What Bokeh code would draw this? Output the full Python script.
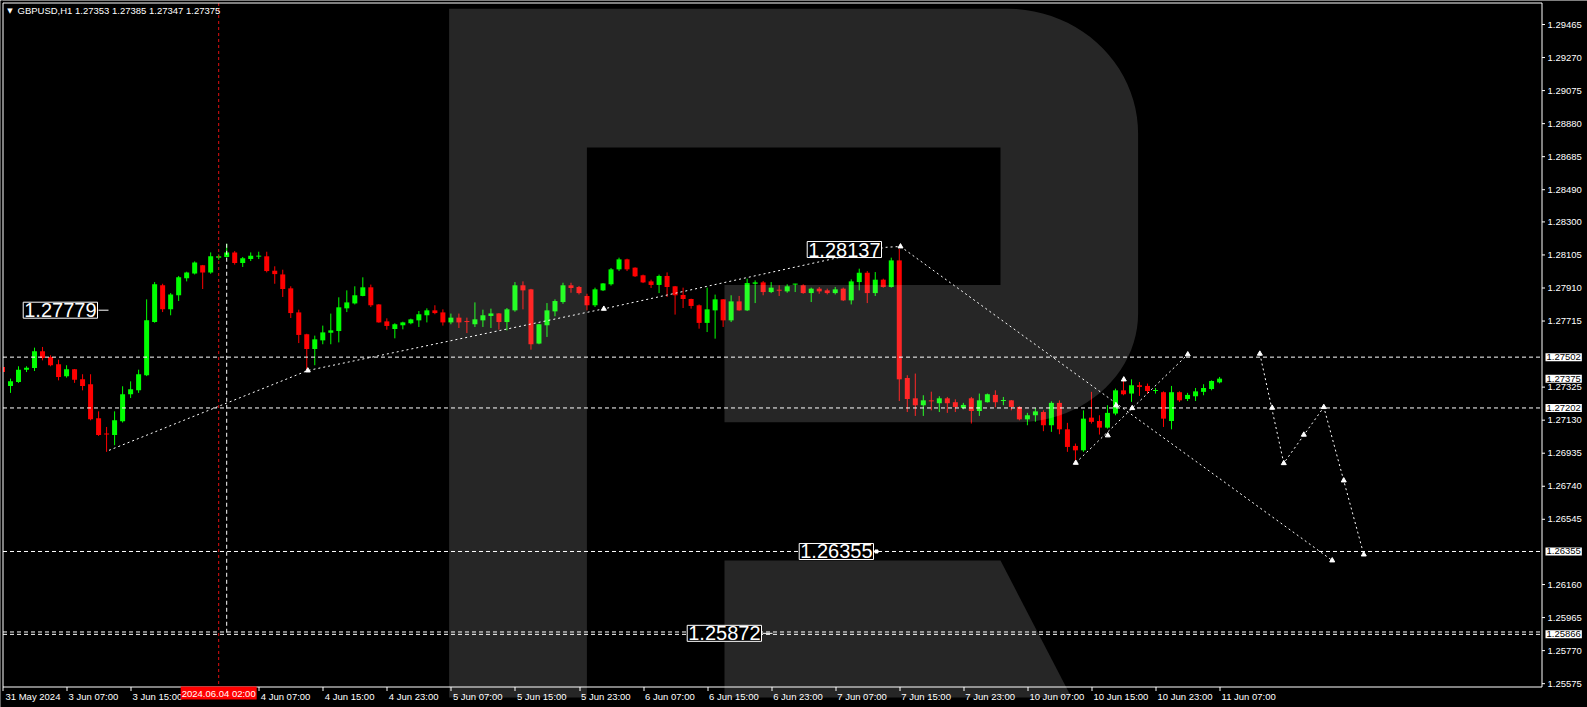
import numpy as np
from bokeh.plotting import figure
from bokeh.models import Range1d, Label, ColumnDataSource
from bokeh.embed import file_html
from bokeh.resources import INLINE

# ---------------- data ----------------
title_text = "GBPUSD,H1  1.27353 1.27385 1.27347 1.27375"

opens = [
    1.27444, 1.27332, 1.27355, 1.27428, 1.27438, 1.27536, 1.27503, 1.27460, 1.27389, 1.27430,
    1.27371, 1.27342, 1.27141, 1.27049, 1.27043, 1.27123, 1.27283, 1.27306, 1.27395, 1.27709,
    1.27926, 1.27784, 1.27867, 1.27967, 1.27996, 1.28044, 1.28002, 1.28089, 1.28093, 1.28120,
    1.28057, 1.28081, 1.28095, 1.28097, 1.28012, 1.27990, 1.27908, 1.27766, 1.27637, 1.27550,
    1.27601, 1.27646, 1.27656, 1.27790, 1.27819, 1.27863, 1.27914, 1.27813, 1.27713, 1.27668,
    1.27690, 1.27702, 1.27719, 1.27749, 1.27778, 1.27766, 1.27707, 1.27735, 1.27713, 1.27696,
    1.27719, 1.27745, 1.27760, 1.27709, 1.27778, 1.27926, 1.27902, 1.27582, 1.27690, 1.27772,
    1.27827, 1.27926, 1.27916, 1.27863, 1.27808, 1.27896, 1.27932, 1.28020, 1.28079, 1.28030,
    1.27985, 1.27949, 1.27928, 1.27981, 1.27920, 1.27869, 1.27845, 1.27808, 1.27704, 1.27778,
    1.27843, 1.27719, 1.27831, 1.27778, 1.27935, 1.27943, 1.27886, 1.27898, 1.27890, 1.27930,
    1.27926, 1.27880, 1.27906, 1.27896, 1.27880, 1.27906, 1.27837, 1.27945, 1.28000, 1.27880,
    1.27959, 1.27916, 1.28073, 1.27379, 1.27259, 1.27218, 1.27245, 1.27230, 1.27259, 1.27236,
    1.27202, 1.27259, 1.27184, 1.27236, 1.27279, 1.27243, 1.27247, 1.27208, 1.27135, 1.27159,
    1.27178, 1.27100, 1.27232, 1.27076, 1.26978, 1.26952, 1.27145, 1.27125, 1.27086, 1.27169,
    1.27306, 1.27287, 1.27336, 1.27332, 1.27302, 1.27295, 1.27125, 1.27295, 1.27255, 1.27271,
    1.27297, 1.27314, 1.27353]

highs = [
    1.27454, 1.27375, 1.27448, 1.27448, 1.27558, 1.27562, 1.27513, 1.27487, 1.27454, 1.27432,
    1.27401, 1.27401, 1.27182, 1.27090, 1.27182, 1.27330, 1.27359, 1.27428, 1.27843, 1.27945,
    1.27935, 1.27880, 1.27981, 1.28006, 1.28067, 1.28046, 1.28120, 1.28108, 1.28171, 1.28128,
    1.28093, 1.28120, 1.28124, 1.28124, 1.28038, 1.28018, 1.27920, 1.27782, 1.27640, 1.27629,
    1.27688, 1.27759, 1.27855, 1.27896, 1.27920, 1.27973, 1.27930, 1.27815, 1.27731, 1.27702,
    1.27711, 1.27729, 1.27774, 1.27790, 1.27808, 1.27784, 1.27759, 1.27759, 1.27735, 1.27825,
    1.27782, 1.27788, 1.27762, 1.27792, 1.27945, 1.27949, 1.27905, 1.27698, 1.27821, 1.27843,
    1.27941, 1.27941, 1.27922, 1.27876, 1.27912, 1.27939, 1.28028, 1.28089, 1.28083, 1.28032,
    1.27989, 1.27959, 1.27989, 1.28002, 1.27922, 1.27912, 1.27847, 1.27813, 1.27912, 1.27871,
    1.27845, 1.27867, 1.27863, 1.27965, 1.27955, 1.27951, 1.27945, 1.27926, 1.27932, 1.27935,
    1.27932, 1.27912, 1.27916, 1.27906, 1.27916, 1.27912, 1.27961, 1.28024, 1.28010, 1.28004,
    1.27965, 1.28089, 1.28140, 1.27395, 1.27405, 1.27277, 1.27298, 1.27271, 1.27267, 1.27253,
    1.27232, 1.27267, 1.27287, 1.27287, 1.27306, 1.27267, 1.27249, 1.27212, 1.27173, 1.27202,
    1.27188, 1.27241, 1.27247, 1.27114, 1.26992, 1.27188, 1.27297, 1.27159, 1.27218, 1.27316,
    1.27365, 1.27371, 1.27355, 1.27346, 1.27320, 1.27300, 1.27332, 1.27300, 1.27291, 1.27320,
    1.27342, 1.27365, 1.27385]

lows = [
    1.27409, 1.27291, 1.27350, 1.27414, 1.27420, 1.27483, 1.27448, 1.27365, 1.27381, 1.27350,
    1.27306, 1.27129, 1.27037, 1.26943, 1.26982, 1.27116, 1.27261, 1.27291, 1.27390, 1.27705,
    1.27768, 1.27749, 1.27833, 1.27949, 1.27990, 1.27904, 1.27994, 1.28077, 1.28090, 1.28048,
    1.28034, 1.28069, 1.28081, 1.28002, 1.27935, 1.27857, 1.27733, 1.27585, 1.27424, 1.27454,
    1.27578, 1.27578, 1.27589, 1.27768, 1.27813, 1.27861, 1.27798, 1.27705, 1.27664, 1.27613,
    1.27666, 1.27696, 1.27680, 1.27707, 1.27755, 1.27688, 1.27696, 1.27674, 1.27644, 1.27680,
    1.27680, 1.27674, 1.27664, 1.27660, 1.27770, 1.27784, 1.27546, 1.27578, 1.27621, 1.27743,
    1.27817, 1.27882, 1.27872, 1.27778, 1.27798, 1.27892, 1.27924, 1.28010, 1.28010, 1.27975,
    1.27939, 1.27910, 1.27880, 1.27857, 1.27753, 1.27792, 1.27788, 1.27670, 1.27650, 1.27611,
    1.27680, 1.27709, 1.27776, 1.27774, 1.27821, 1.27867, 1.27880, 1.27863, 1.27882, 1.27886,
    1.27876, 1.27827, 1.27876, 1.27872, 1.27872, 1.27833, 1.27813, 1.27896, 1.27821, 1.27863,
    1.27912, 1.27912, 1.27243, 1.27178, 1.27155, 1.27155, 1.27188, 1.27178, 1.27173, 1.27178,
    1.27194, 1.27110, 1.27155, 1.27234, 1.27206, 1.27218, 1.27188, 1.27129, 1.27100, 1.27120,
    1.27065, 1.27061, 1.27047, 1.26943, 1.26874, 1.26943, 1.27110, 1.27045, 1.27080, 1.27159,
    1.27277, 1.27238, 1.27273, 1.27287, 1.27287, 1.27090, 1.27076, 1.27238, 1.27243, 1.27243,
    1.27277, 1.27306, 1.27347]

closes = [
    1.27414, 1.27359, 1.27428, 1.27440, 1.27536, 1.27497, 1.27454, 1.27385, 1.27430, 1.27369,
    1.27332, 1.27135, 1.27043, 1.27045, 1.27129, 1.27283, 1.27312, 1.27401, 1.27719, 1.27932,
    1.27784, 1.27872, 1.27973, 1.28002, 1.28061, 1.28002, 1.28097, 1.28097, 1.28120, 1.28057,
    1.28085, 1.28101, 1.28097, 1.28010, 1.27992, 1.27904, 1.27762, 1.27633, 1.27550, 1.27607,
    1.27648, 1.27660, 1.27796, 1.27825, 1.27867, 1.27914, 1.27808, 1.27707, 1.27686, 1.27696,
    1.27707, 1.27725, 1.27755, 1.27778, 1.27762, 1.27707, 1.27735, 1.27707, 1.27709, 1.27725,
    1.27749, 1.27760, 1.27709, 1.27784, 1.27926, 1.27896, 1.27578, 1.27696, 1.27778, 1.27833,
    1.27926, 1.27910, 1.27880, 1.27808, 1.27902, 1.27937, 1.28020, 1.28079, 1.28020, 1.27979,
    1.27943, 1.27928, 1.27981, 1.27916, 1.27867, 1.27845, 1.27804, 1.27704, 1.27784, 1.27843,
    1.27719, 1.27831, 1.27778, 1.27939, 1.27943, 1.27886, 1.27912, 1.27894, 1.27920, 1.27932,
    1.27880, 1.27906, 1.27890, 1.27880, 1.27902, 1.27837, 1.27949, 1.28000, 1.27880, 1.27959,
    1.27916, 1.28073, 1.27371, 1.27255, 1.27218, 1.27247, 1.27241, 1.27259, 1.27230, 1.27208,
    1.27220, 1.27184, 1.27247, 1.27283, 1.27236, 1.27247, 1.27208, 1.27135, 1.27159, 1.27182,
    1.27100, 1.27232, 1.27076, 1.26972, 1.26952, 1.27139, 1.27120, 1.27086, 1.27173, 1.27306,
    1.27283, 1.27336, 1.27326, 1.27302, 1.27306, 1.27139, 1.27295, 1.27247, 1.27279, 1.27300,
    1.27320, 1.27361, 1.27375]

# time axis (bar index -> label); bar 0 = 31 May 23:00, H1 bars, weekend skipped
time_tick_bars = [0, 8, 16, 24, 32, 40, 48, 56, 64, 72, 80, 88, 96, 104, 112, 120, 128, 136, 144, 152]
time_label_bars = [0, 8, 16, 32, 40, 48, 56, 64, 72, 80, 88, 96, 104, 112, 120, 128, 136, 144, 152]
time_labels = ["31 May 2024", "3 Jun 07:00", "3 Jun 15:00", "4 Jun 07:00", "4 Jun 15:00",
               "4 Jun 23:00", "5 Jun 07:00", "5 Jun 15:00", "5 Jun 23:00", "6 Jun 07:00",
               "6 Jun 15:00", "6 Jun 23:00", "7 Jun 07:00", "7 Jun 15:00", "7 Jun 23:00",
               "10 Jun 07:00", "10 Jun 15:00", "10 Jun 23:00", "11 Jun 07:00"]
crosshair_bar = 27
crosshair_label = "2024.06.04 02:00"
marked_high_bar = 28
marked_high_price = 1.28171
marked_low_price = 1.25872

price_ticks = [1.29465, 1.29270, 1.29075, 1.28880, 1.28685, 1.28490, 1.28300, 1.28105,
               1.27910, 1.27715, 1.27325, 1.27130, 1.26935, 1.26740, 1.26545, 1.26160,
               1.25965, 1.25770, 1.25575]
level_prices = [1.27502, 1.27202, 1.26355, 1.25880, 1.25866]
axis_box_prices = [1.27502, 1.27375, 1.27202, 1.26355, 1.25866]
chart_box_prices = [1.27779, 1.28137, 1.26355, 1.25872]

trend_a_bars = [13.3, 38.13, 75.10, 110.30, 112.15]
trend_a_prices = [1.26952, 1.27423, 1.27787, 1.28150, 1.28155]
trend_b_bars = [112.15, 166.07]
trend_b_prices = [1.28155, 1.26302]
trend_c_bars = [134.04, 148.03]
trend_c_prices = [1.26878, 1.27518]
forecast_bars = [157.03, 160.02, 165.02, 170.01]
forecast_prices = [1.27522, 1.26876, 1.27207, 1.26337]

marker_bars = [38.13, 75.10, 112.15, 134.04, 138.04, 139.09, 140.04, 141.09, 148.03,
               157.03, 158.57, 160.02, 162.52, 165.02, 167.51, 170.01, 166.07]
marker_prices = [1.27423, 1.27787, 1.28155, 1.26878, 1.27040, 1.27217, 1.27370, 1.27201, 1.27518,
                 1.27522, 1.27203, 1.26876, 1.27044, 1.27207, 1.26774, 1.26337, 1.26302]

# ---------------- layout helpers (canvas pixel -> data) ----------------
W, H = 1587, 707
PX_PER_BAR = 8.007
X0_PX = 2.0
PX_PER_PRICE = 16945.0
Y_REF_PX = 24.0
P_REF = 1.29465
FRAME_L, FRAME_T, FRAME_R, FRAME_B = 2.5, 2.5, 1541.5, 686.5


def bx(px):
    return (px - X0_PX) / PX_PER_BAR


def py(pyv):
    return P_REF - (pyv - Y_REF_PX) / PX_PER_PRICE


def bar_px(b):
    return X0_PX + b * PX_PER_BAR


def price_px(pr):
    return Y_REF_PX + (P_REF - pr) * PX_PER_PRICE


FONT = "Liberation Sans"
UP = "#00ff00"
DOWN = "#ff0000"

p = figure(width=W, height=H,
           x_range=Range1d(bx(0), bx(W)), y_range=Range1d(py(H), py(0)),
           output_backend="svg", toolbar_location=None,
           x_axis_location=None, y_axis_location=None,
           min_border_left=0, min_border_top=0, min_border_right=0, min_border_bottom=0,
           background_fill_color="black", border_fill_color="black")
p.outline_line_color = None
p.grid.visible = False

# ---------------- candles ----------------
n = min(len(opens), len(highs), len(lows), len(closes))
bars = list(range(n))
min_body = 1.0 / PX_PER_PRICE
tops, bottoms, colors = [], [], []
for o, c in zip(opens[:n], closes[:n]):
    lo, hi = min(o, c), max(o, c)
    if hi - lo < min_body:
        hi = lo + min_body
    tops.append(hi)
    bottoms.append(lo)
    colors.append(UP if c >= o else DOWN)

src = ColumnDataSource(dict(x=bars, h=highs[:n], l=lows[:n], top=tops, bottom=bottoms, color=colors))
p.segment(x0="x", y0="l", x1="x", y1="h", line_color="color", line_width=1, source=src)
p.vbar(x="x", width=5.0 / PX_PER_BAR, top="top", bottom="bottom",
       fill_color="color", line_color=None, source=src)

# hide whatever lies left of the chart frame
p.quad(left=bx(0), right=bx(FRAME_L), bottom=py(H), top=py(0), fill_color="black", line_color=None)

# ---------------- watermark "R" (semi-transparent overlay) ----------------
t = np.linspace(0, np.pi / 2, 24)
r_px_x = [448.6, 1007.0]
r_px_y = [8.3, 8.3]
r_px_x += list(1007.0 + 130.6 * np.sin(t))
r_px_y += list(133.3 - 125.0 * np.cos(t))
r_px_x += list(1017.0 + 120.6 * np.cos(t))
r_px_y += list(313.0 + 108.7 * np.sin(t))
r_px_x += [724.0, 724.0, 1000.0, 1000.0, 586.4, 586.4, 448.6]
r_px_y += [421.7, 284.5, 284.5, 147.0, 147.0, 697.0, 697.0]
p.patch([bx(v) for v in r_px_x], [py(v) for v in r_px_y],
        fill_color="white", fill_alpha=0.148, line_color=None)
leg_x = [724.0, 1000.0, 1071.0, 724.0]
leg_y = [560.0, 560.0, 697.0, 697.0]
p.patch([bx(v) for v in leg_x], [py(v) for v in leg_y],
        fill_color="white", fill_alpha=0.148, line_color=None)

# ---------------- levels and lines ----------------
for lv in level_prices:
    p.line([bx(FRAME_L), bx(FRAME_R)], [lv, lv], line_color="white", line_width=1, line_dash="4 3")
p.line([crosshair_bar, crosshair_bar], [py(FRAME_T), py(FRAME_B)],
       line_color="#e01010", line_width=1, line_dash="3 3")
p.line([marked_high_bar, marked_high_bar], [marked_high_price, marked_low_price],
       line_color="white", line_width=1, line_dash="4 3")

for xs, ys in [(trend_a_bars, trend_a_prices), (trend_b_bars, trend_b_prices),
               (trend_c_bars, trend_c_prices), (forecast_bars, forecast_prices)]:
    p.line(xs, ys, line_color="white", line_width=1, line_dash="2 3")

p.scatter(marker_bars, marker_prices, marker="triangle", size=5,
          fill_color="white", line_color="white")

# connectors of the big price boxes
p.line([bx(98), bx(108)], [chart_box_prices[0]] * 2, line_color="white", line_width=1)
p.line([bx(762), bx(772)], [chart_box_prices[3]] * 2, line_color="white", line_width=1)
p.scatter([bx(876)], [chart_box_prices[2]], marker="square", size=3,
          fill_color="white", line_color="white")

# ---------------- chart frame, axis lines and ticks ----------------
p.line([bx(FRAME_L), bx(FRAME_R), bx(FRAME_R), bx(FRAME_L), bx(FRAME_L)],
       [py(FRAME_T), py(FRAME_T), py(FRAME_B), py(FRAME_B), py(FRAME_T)],
       line_color="white", line_width=1)
p.segment(x0=[bx(FRAME_R)] * len(price_ticks), y0=price_ticks,
          x1=[bx(FRAME_R + 3)] * len(price_ticks), y1=price_ticks,
          line_color="white", line_width=1)
p.segment(x0=[bar_px(b) for b in []], y0=[], x1=[], y1=[])
tick_x = [bx(round(bar_px(b)) + 0.5) for b in time_tick_bars]
p.segment(x0=tick_x, y0=[py(FRAME_B)] * len(tick_x), x1=tick_x, y1=[py(FRAME_B + 4)] * len(tick_x),
          line_color="white", line_width=1)

# right-axis price labels
for val in price_ticks:
    p.add_layout(Label(x=bx(1547), y=val, text=f"{val:.5f}", text_align="left",
                       text_baseline="middle", text_color="white", text_font=FONT,
                       text_font_size="9.5px"))

# ---------------- big boxed price labels ----------------
box_right_px = [97, 881, 873, 761]
for val, rx in zip(chart_box_prices, box_right_px):
    p.add_layout(Label(x=bx(rx), y=val, text=f"{val:.5f}", text_align="right",
                       text_baseline="middle", text_color="white", text_font=FONT,
                       text_font_size="20px", background_fill_color="black",
                       border_line_color="white", border_line_width=1, padding=1))

# ---------------- right axis boxed labels ----------------
for val in axis_box_prices:
    p.add_layout(Label(x=bx(1545), y=val, text=f"{val:.5f}", text_align="left",
                       text_baseline="middle", text_color="black", text_font=FONT,
                       text_font_size="9.5px", background_fill_color="white", padding=1))

# ---------------- time labels ----------------
for b, txt in zip(time_label_bars, time_labels):
    xb = bx(bar_px(b) + 2)
    if b == 0:
        xb = bx(5)
    p.add_layout(Label(x=xb, y=py(695.5), text=txt, text_align="left",
                       text_baseline="middle", text_color="white", text_font=FONT,
                       text_font_size="9.5px"))
p.add_layout(Label(x=crosshair_bar, y=py(692.5), text=crosshair_label, text_align="center",
                   text_baseline="middle", text_color="white", text_font=FONT,
                   text_font_size="9.5px", background_fill_color="#ff0000", padding=1))

# ---------------- title ----------------
p.add_layout(Label(x=bx(9.5), y=py(10), text="\u25bc", text_align="center",
                   text_baseline="middle", text_color="white", text_font="DejaVu Sans",
                   text_font_size="7px"))
p.add_layout(Label(x=bx(17), y=py(10), text=title_text, text_align="left",
                   text_baseline="middle", text_color="white", text_font=FONT,
                   text_font_size="9.5px"))

open("out.html", "w").write(file_html(p, INLINE))
